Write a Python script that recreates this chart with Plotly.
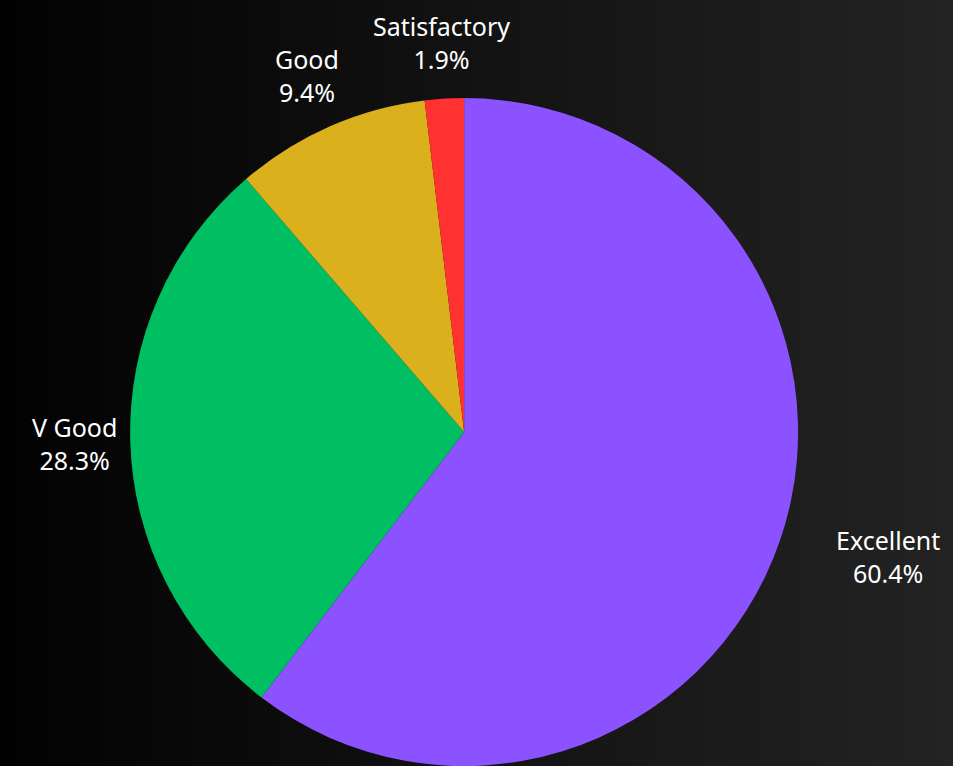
import math
import plotly.graph_objects as go

# Ratings breakdown (counts)
labels = ["Excellent", "V Good", "Good", "Satisfactory"]
counts = [32, 15, 5, 1]
colors = ["#8C52FF", "#00BF63", "#DAB01D", "#FF3131"]
label_anchor = ["left", "center", "center", "center"]

W, H = 953, 766
dom_x = [0.487 - 0.36, 0.487 + 0.36]
dom_y = [0.0, 0.872]

fig = go.Figure(
    go.Pie(
        labels=labels,
        values=counts,
        marker=dict(colors=colors, line=dict(width=0)),
        sort=False,
        direction="clockwise",
        rotation=0,
        textinfo="none",
        showlegend=False,
        hoverinfo="skip",
        domain=dict(x=dom_x, y=dom_y),
    )
)

# Pie geometry in pixels (plotly uses min of domain box for the radius)
cx = (dom_x[0] + dom_x[1]) / 2 * W
cy = (1 - (dom_y[0] + dom_y[1]) / 2) * H
radius = min((dom_x[1] - dom_x[0]) * W, (dom_y[1] - dom_y[0]) * H) / 2
label_dist = radius + 56

# Outside labels placed along each slice's mid-angle
total = sum(counts)
annotations = []
cum = 0
for lab, val, anchor in zip(labels, counts, label_anchor):
    frac = val / total
    mid = (cum + frac / 2) * 2 * math.pi  # clockwise from 12 o'clock
    cum += frac
    px = cx + label_dist * math.sin(mid)
    py = cy - label_dist * math.cos(mid)
    annotations.append(dict(
        x=px / W, y=1 - py / H, xref="paper", yref="paper",
        text=f"{lab}<br>{frac:.1%}", showarrow=False,
        xanchor=anchor, yanchor="middle", align="center",
        font=dict(family="Noto Sans", color="white", size=25),
    ))

# Horizontal dark gradient background built from thin strips
n = 120
start, end = (2, 2, 2), (35, 35, 35)
shapes = []
for i in range(n):
    t = i / (n - 1)
    c = tuple(round(s + (e - s) * t) for s, e in zip(start, end))
    shapes.append(dict(
        type="rect", xref="paper", yref="paper",
        x0=i / n, x1=(i + 1) / n + 0.002, y0=0, y1=1,
        fillcolor=f"rgb{c}", line=dict(width=0), layer="below",
    ))

fig.update_layout(
    width=W, height=H,
    margin=dict(l=0, r=0, t=0, b=0),
    paper_bgcolor="#111111",
    plot_bgcolor="rgba(0,0,0,0)",
    shapes=shapes,
    annotations=annotations,
    font=dict(family="Noto Sans", color="white", size=25),
)

fig.write_html("out.html")
